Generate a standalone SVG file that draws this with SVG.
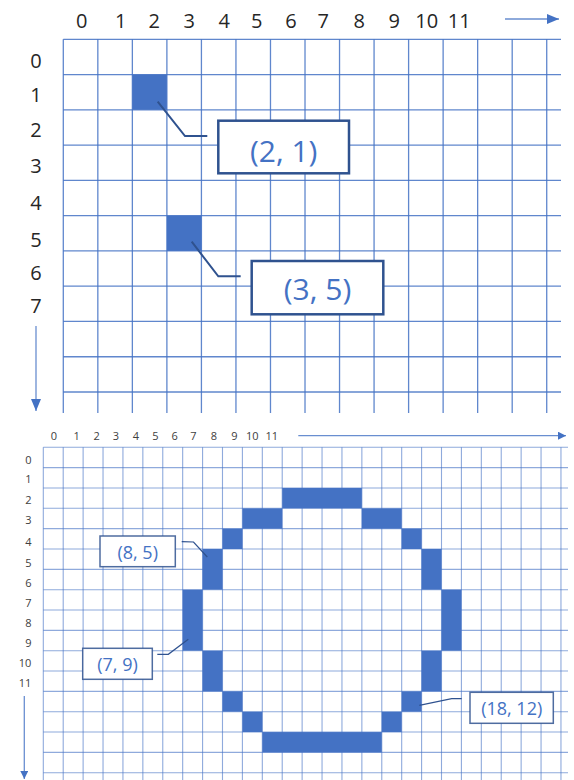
<svg xmlns="http://www.w3.org/2000/svg" width="574" height="780" viewBox="0 0 574 780">
<defs>
<style>
.bg{fill:#ffffff}
.gridT{fill:none;stroke:#4472C4;stroke-width:1.3;stroke-opacity:0.85}
.gridB{fill:none;stroke:#4472C4;stroke-width:1.1;stroke-opacity:0.6}
.cell{fill:#4472C4}
.lblT{font-family:"Open Sans","Liberation Sans",sans-serif;font-size:20px;fill:#262626;text-anchor:middle}
.lblB{font-family:"Open Sans","Liberation Sans",sans-serif;font-size:11px;fill:#404040;text-anchor:middle}
.axis{fill:none;stroke:#4472C4;stroke-width:1.3;stroke-opacity:0.8}
.box1{fill:#ffffff;stroke:#2F528F;stroke-width:2.5}
.box2{fill:#ffffff;stroke:#2F528F;stroke-width:1.5;stroke-opacity:0.85}
.lead1{fill:none;stroke:#2F528F;stroke-width:2}
.lead2{fill:none;stroke:#2F528F;stroke-width:1.2}
.ct1{font-family:"Open Sans","Liberation Sans",sans-serif;font-size:30px;fill:#4472C4;text-anchor:middle}
.ct2{font-family:"Open Sans","Liberation Sans",sans-serif;font-size:18px;fill:#4472C4;text-anchor:middle}
</style>
<marker id="headL" markerUnits="userSpaceOnUse" markerWidth="12" markerHeight="10" viewBox="0 0 12 10" refX="12" refY="5" orient="auto"><path d="M0,0 L12,5 L0,10 Z" fill="#4472C4"/></marker>
<marker id="headS" markerUnits="userSpaceOnUse" markerWidth="8" markerHeight="8" viewBox="0 0 8 8" refX="8" refY="4" orient="auto"><path d="M0,0 L8,4 L0,8 Z" fill="#4472C4"/></marker>
</defs>
<rect class="bg" x="0" y="0" width="574" height="780"/>

<g id="top-grid">
<path class="gridT" d="M63.3 39.3V413M97.83 39.3V413M132.36 39.3V413M166.89 39.3V413M201.42 39.3V413M235.95 39.3V413M270.48 39.3V413M305.01 39.3V413M339.54 39.3V413M374.07 39.3V413M408.6 39.3V413M443.13 39.3V413M477.66 39.3V413M512.19 39.3V413M546.72 39.3V413"/>
<path class="gridT" d="M63.3 39.3H561M63.3 74.57H561M63.3 109.84H561M63.3 145.11H561M63.3 180.38H561M63.3 215.65H561M63.3 250.92H561M63.3 286.19H561M63.3 321.46H561M63.3 356.73H561M63.3 392H561"/>
<rect class="cell" x="132.36" y="74.57" width="34.53" height="35.27"/>
<rect class="cell" x="166.89" y="215.65" width="34.53" height="35.27"/>
</g>

<g id="top-labels">
<text class="lblT" x="81.7" y="27.5">0</text>
<text class="lblT" x="120.7" y="27.5">1</text>
<text class="lblT" x="154.3" y="27.5">2</text>
<text class="lblT" x="189.3" y="27.5">3</text>
<text class="lblT" x="224.3" y="27.5">4</text>
<text class="lblT" x="256.7" y="27.5">5</text>
<text class="lblT" x="291" y="27.5">6</text>
<text class="lblT" x="323.3" y="27.5">7</text>
<text class="lblT" x="359.3" y="27.5">8</text>
<text class="lblT" x="394.3" y="27.5">9</text>
<text class="lblT" x="426.7" y="27.5">10</text>
<text class="lblT" x="459.3" y="27.5">11</text>
<text class="lblT" x="36" y="68">0</text>
<text class="lblT" x="36" y="101.5">1</text>
<text class="lblT" x="36" y="137">2</text>
<text class="lblT" x="36" y="172.7">3</text>
<text class="lblT" x="36" y="209.5">4</text>
<text class="lblT" x="36" y="246.5">5</text>
<text class="lblT" x="36" y="280">6</text>
<text class="lblT" x="36" y="313">7</text>
</g>

<g id="bottom-grid">
<path class="gridB" d="M43.3 447.3V780M63.21 447.3V780M83.12 447.3V780M103.03 447.3V780M122.94 447.3V780M142.85 447.3V780M162.76 447.3V780M182.67 447.3V780M202.58 447.3V780M222.49 447.3V780M242.4 447.3V780M262.31 447.3V780M282.22 447.3V780M302.13 447.3V780M322.04 447.3V780M341.95 447.3V780M361.86 447.3V780M381.77 447.3V780M401.68 447.3V780M421.59 447.3V780M441.5 447.3V780M461.41 447.3V780M481.32 447.3V780M501.23 447.3V780M521.14 447.3V780M541.05 447.3V780M560.96 447.3V780"/>
<path class="gridB" d="M43.3 447.3H568M43.3 467.64H568M43.3 487.98H568M43.3 508.32H568M43.3 528.66H568M43.3 549H568M43.3 569.34H568M43.3 589.68H568M43.3 610.02H568M43.3 630.36H568M43.3 650.7H568M43.3 671.04H568M43.3 691.38H568M43.3 711.72H568M43.3 732.06H568M43.3 752.4H568M43.3 772.74H568"/>
<rect class="cell" x="282.22" y="487.98" width="79.64" height="20.34"/>
<rect class="cell" x="242.4" y="508.32" width="39.82" height="20.34"/>
<rect class="cell" x="361.86" y="508.32" width="39.82" height="20.34"/>
<rect class="cell" x="222.49" y="528.66" width="19.91" height="20.34"/>
<rect class="cell" x="401.68" y="528.66" width="19.91" height="20.34"/>
<rect class="cell" x="202.58" y="549" width="19.91" height="40.68"/>
<rect class="cell" x="421.59" y="549" width="19.91" height="40.68"/>
<rect class="cell" x="182.67" y="589.68" width="19.91" height="61.02"/>
<rect class="cell" x="441.5" y="589.68" width="19.91" height="61.02"/>
<rect class="cell" x="202.58" y="650.7" width="19.91" height="40.68"/>
<rect class="cell" x="421.59" y="650.7" width="19.91" height="40.68"/>
<rect class="cell" x="222.49" y="691.38" width="19.91" height="20.34"/>
<rect class="cell" x="401.68" y="691.38" width="19.91" height="20.34"/>
<rect class="cell" x="242.4" y="711.72" width="19.91" height="20.34"/>
<rect class="cell" x="381.77" y="711.72" width="19.91" height="20.34"/>
<rect class="cell" x="262.31" y="732.06" width="119.46" height="20.34"/>
</g>

<g id="bottom-labels">
<text class="lblB" x="54" y="439.7">0</text>
<text class="lblB" x="76.7" y="439.7">1</text>
<text class="lblB" x="96.7" y="439.7">2</text>
<text class="lblB" x="116" y="439.7">3</text>
<text class="lblB" x="136" y="439.7">4</text>
<text class="lblB" x="155.3" y="439.7">5</text>
<text class="lblB" x="174.7" y="439.7">6</text>
<text class="lblB" x="193.3" y="439.7">7</text>
<text class="lblB" x="214" y="439.7">8</text>
<text class="lblB" x="234.3" y="439.7">9</text>
<text class="lblB" x="252.3" y="439.7">10</text>
<text class="lblB" x="271.7" y="439.7">11</text>
<text class="lblB" x="28.3" y="464">0</text>
<text class="lblB" x="28.3" y="483">1</text>
<text class="lblB" x="28.3" y="504">2</text>
<text class="lblB" x="28.3" y="524">3</text>
<text class="lblB" x="28.3" y="545.7">4</text>
<text class="lblB" x="28.3" y="566.7">5</text>
<text class="lblB" x="28.3" y="586.7">6</text>
<text class="lblB" x="28.3" y="607">7</text>
<text class="lblB" x="28.3" y="626.7">8</text>
<text class="lblB" x="28.3" y="647.3">9</text>
<text class="lblB" x="25" y="666.7">10</text>
<text class="lblB" x="25" y="686.7">11</text>
</g>

<g id="connectors">
<line class="axis" x1="505" y1="19" x2="559" y2="19" marker-end="url(#headL)"/>
<line class="axis" x1="36" y1="326" x2="36" y2="411" stroke-opacity="0.6" marker-end="url(#headL)"/>
<line class="axis" x1="298.3" y1="435.7" x2="566" y2="435.7" stroke-opacity="0.6" marker-end="url(#headS)"/>
<line class="axis" x1="24.3" y1="696" x2="24.3" y2="779" stroke-opacity="0.6" marker-end="url(#headS)"/>
<polyline class="lead1" points="157.7,101.7 185,136 207.3,136"/>
<polyline class="lead1" points="191.7,241.7 218.3,276.3 240.7,276.3"/>
<polyline class="lead2" points="181.7,541.7 193.5,542 207.3,557"/>
<polyline class="lead2" points="157.3,654.3 168.3,654.3 188.3,639.3"/>
<polyline class="lead2" points="461.7,698.7 451.7,698.7 419.3,705.3"/>
</g>

<g id="callout-2-1">
<rect class="box1" x="218.3" y="120.7" width="130.7" height="52.6"/>
<text class="ct1" x="283.7" y="161.5">(2, 1)</text>
</g>
<g id="callout-3-5">
<rect class="box1" x="251.7" y="261" width="131.6" height="53.3"/>
<text class="ct1" x="317.5" y="299.5">(3, 5)</text>
</g>
<g id="callout-8-5">
<rect class="box2" x="100" y="536" width="75.3" height="30.7"/>
<text class="ct2" x="137.7" y="558.5">(8, 5)</text>
</g>
<g id="callout-7-9">
<rect class="box2" x="82.7" y="648.3" width="69.6" height="31"/>
<text class="ct2" x="117.5" y="671">(7, 9)</text>
</g>
<g id="callout-18-12">
<rect class="box2" x="470" y="692.3" width="83.3" height="31"/>
<text class="ct2" x="511.7" y="714.5">(18, 12)</text>
</g>
</svg>
